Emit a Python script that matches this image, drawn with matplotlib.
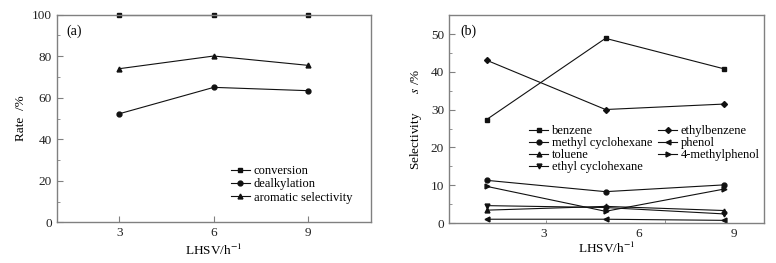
import matplotlib
matplotlib.use("Agg")
import matplotlib.pyplot as plt
from matplotlib.ticker import MultipleLocator, FixedLocator

plt.rcParams['font.family'] = ['Liberation Serif', 'DejaVu Serif']
plt.rcParams['mathtext.fontset'] = 'stix'

# Panel (a) data
lhsv = [3, 6, 9]
conversion = [100.0, 100.0, 100.0]
dealkylation = [52.3, 65.0, 63.4]
aromatic_selectivity = [74.0, 80.1, 75.6]

# Panel (b) data
benzene = [27.4, 48.9, 40.8]
methyl_cyclohexane = [11.3, 8.3, 10.1]
toluene = [3.4, 4.4, 3.3]
ethyl_cyclohexane = [4.6, 4.1, 2.4]
ethylbenzene = [43.1, 30.05, 31.5]
phenol = [1.0, 1.0, 0.7]
methylphenol = [9.7, 3.1, 9.0]

W, H = 776, 263
fig = plt.figure(figsize=(W / 100, H / 100), dpi=100)

def frac(l, r, t, b):
    return [l / W, 1 - b / H, (r - l) / W, (b - t) / H]

spine_col = '#808080'
lc = '#111111'
fs = 9.5

ax1 = fig.add_axes(frac(56.5, 371, 14.7, 222.3))
ax2 = fig.add_axes(frac(449, 764, 15.3, 223))

for ax in (ax1, ax2):
    for s in ax.spines.values():
        s.set_color(spine_col)
        s.set_linewidth(1.0)
    ax.tick_params(which='both', direction='in', colors=spine_col, labelcolor='#222222', labelsize=fs,
                   top=False, right=False)
    ax.tick_params(which='major', length=4)
    ax.tick_params(which='minor', length=2.5)

kw = dict(color=lc, lw=0.8, ms=3.5, clip_on=False)
ax1.plot(lhsv, conversion, marker='s', label='conversion', **kw)
ax1.plot(lhsv, dealkylation, marker='o', label='dealkylation', **kw)
ax1.plot(lhsv, aromatic_selectivity, marker='^', label='aromatic selectivity', **kw)
ax1.set_xlim(1, 11)
ax1.set_ylim(0, 100)
ax1.set_xticks(lhsv)
ax1.yaxis.set_major_locator(MultipleLocator(20))
ax1.yaxis.set_minor_locator(MultipleLocator(10))
ax1.set_xlabel('LHSV/h$^{-1}$', fontsize=fs, labelpad=3)
ax1.set_ylabel('Rate  /%', fontsize=fs, labelpad=3)
ax1.text(0.03, 0.905, '(a)', transform=ax1.transAxes, fontsize=fs + 0.5)
ax1.legend(loc='upper left', bbox_to_anchor=(0.555, 0.275), frameon=False, fontsize=9,
           handlelength=1.5, handletextpad=0.3, labelspacing=0.1, borderpad=0, borderaxespad=0)

kw2 = dict(color=lc, lw=0.8, ms=3.5, clip_on=False)
ax2.plot(lhsv, benzene, marker='s', label='benzene', **kw2)
ax2.plot(lhsv, methyl_cyclohexane, marker='o', label='methyl cyclohexane', **kw2)
ax2.plot(lhsv, toluene, marker='^', label='toluene', **kw2)
ax2.plot(lhsv, ethyl_cyclohexane, marker='v', label='ethyl cyclohexane', **kw2)
ax2.plot(lhsv, ethylbenzene, marker='D', label='ethylbenzene', color=lc, lw=0.8, ms=3, clip_on=False)
ax2.plot(lhsv, phenol, marker='<', label='phenol', **kw2)
ax2.plot(lhsv, methylphenol, marker='>', label='4-methylphenol', **kw2)
ax2.set_xlim(2.05, 10)
ax2.set_ylim(0, 55)
ax2.xaxis.set_major_locator(FixedLocator([4.43, 6.83, 9.23]))
ax2.set_xticklabels(['3', '6', '9'])
ax2.tick_params(axis='x', which='major', length=0)
ax2.xaxis.set_minor_locator(FixedLocator([4.5, 7.5]))
ax2.yaxis.set_major_locator(MultipleLocator(10))
ax2.yaxis.set_minor_locator(MultipleLocator(5))
ax2.set_xlabel('LHSV/h$^{-1}$', fontsize=fs, labelpad=1)
ax2.set_ylabel('Selectivity      $s$ /%', fontsize=fs, labelpad=5)
ax2.text(0.035, 0.905, '(b)', transform=ax2.transAxes, fontsize=fs + 0.5)
ax2.legend(loc='upper left', bbox_to_anchor=(0.255, 0.47), frameon=False, fontsize=9, ncol=2,
           handlelength=1.5, handletextpad=0.3, labelspacing=0.0, borderpad=0, borderaxespad=0,
           columnspacing=0.5)

fig.savefig('out.png', dpi=100)
